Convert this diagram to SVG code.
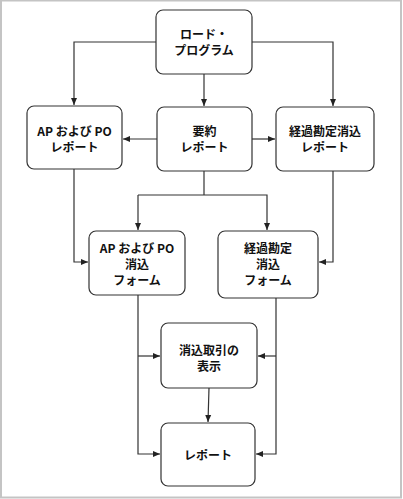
<svg xmlns="http://www.w3.org/2000/svg" width="403" height="499" viewBox="0 0 403 499">
<defs>
<marker id="ah" markerWidth="8" markerHeight="8" refX="7" refY="4" orient="auto" markerUnits="userSpaceOnUse">
<path d="M0,1 L7,4 L0,7 Z" fill="#222"/>
</marker>
<style>
.n{fill:#fff;stroke:#333;stroke-width:1.2}
.t{font-family:"Noto Sans CJK JP","Liberation Sans",sans-serif;font-size:12px;font-weight:bold;fill:#111;text-anchor:middle;dominant-baseline:central}
.c{fill:none;stroke:#333;stroke-width:1.2}
.a{marker-end:url(#ah)}
</style>
</defs>
<rect x="0" y="0" width="403" height="499" fill="#fff"/>
<rect x="1" y="0.5" width="400" height="497" fill="none" stroke="#c4c4c4" stroke-width="2"/>
<g id="connectors">
<path class="c a" d="M204,74 V106"/>
<path class="c a" d="M156,42 H74 V105"/>
<path class="c a" d="M252,42 H333 V106"/>
<path class="c a" d="M157,139 H123"/>
<path class="c a" d="M252,139 H275"/>
<path class="c" d="M204,171 V195"/>
<path class="c a" d="M138,195 H267 V230"/>
<path class="c a" d="M138,195 V230"/>
<path class="c a" d="M74,169 V262 H88"/>
<path class="c a" d="M333,171 V262 H319"/>
<path class="c a" d="M138,295 V454 H160"/>
<path class="c a" d="M138,356 H160"/>
<path class="c a" d="M276,298 V454 H256"/>
<path class="c a" d="M276,356 H258"/>
<path class="c a" d="M209,388 L208,422"/>
</g>
<g id="load-program">
<rect class="n" x="156" y="10" width="96" height="64" rx="7"/>
<text class="t" x="204" y="33.5">ロード・</text>
<text class="t" x="204" y="49.5">プログラム</text>
</g>
<g id="ap-po-report">
<rect class="n" x="27" y="106" width="95" height="63" rx="7"/>
<text class="t" x="74.5" y="130">AP および PO</text>
<text class="t" x="74.5" y="146">レポート</text>
</g>
<g id="summary-report">
<rect class="n" x="157" y="107" width="95" height="64" rx="7"/>
<text class="t" x="204.5" y="130">要約</text>
<text class="t" x="204.5" y="146">レポート</text>
</g>
<g id="aging-report">
<rect class="n" x="276" y="107" width="98" height="64" rx="7"/>
<text class="t" x="325" y="130">経過勘定消込</text>
<text class="t" x="325" y="146">レポート</text>
</g>
<g id="ap-po-form">
<rect class="n" x="89" y="231" width="96" height="64" rx="7"/>
<text class="t" x="137" y="247">AP および PO</text>
<text class="t" x="137" y="263">消込</text>
<text class="t" x="137" y="279">フォーム</text>
</g>
<g id="aging-form">
<rect class="n" x="218" y="231" width="100" height="67" rx="7"/>
<text class="t" x="268" y="247">経過勘定</text>
<text class="t" x="268" y="263">消込</text>
<text class="t" x="268" y="279">フォーム</text>
</g>
<g id="view-transactions">
<rect class="n" x="161" y="323" width="96" height="65" rx="7"/>
<text class="t" x="209" y="349">消込取引の</text>
<text class="t" x="209" y="365">表示</text>
</g>
<g id="reports">
<rect class="n" x="161" y="423" width="94" height="63" rx="7"/>
<text class="t" x="208" y="454">レポート</text>
</g>
</svg>
